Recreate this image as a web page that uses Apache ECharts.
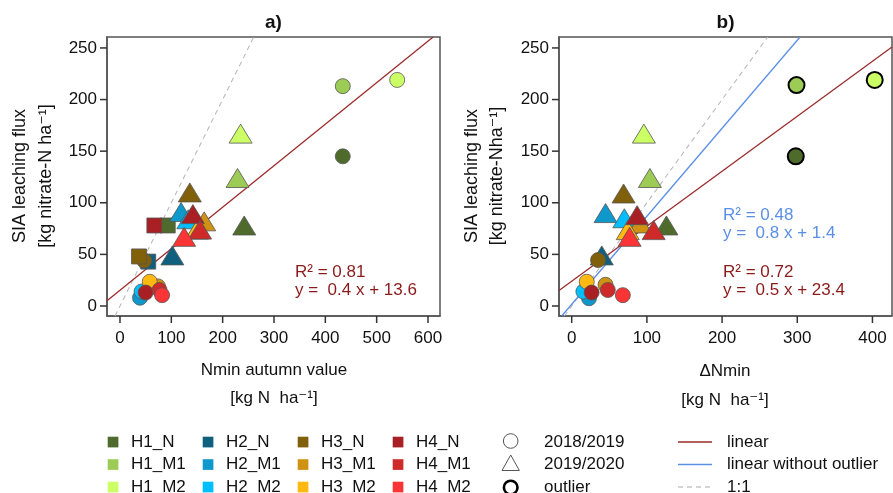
<!DOCTYPE html>
<html>
<head>
<meta charset="utf-8">
<title>SIA leaching flux vs Nmin</title>
<script src="https://cdn.jsdelivr.net/npm/echarts@6/dist/echarts.min.js"></script>
<style>
  html, body { margin: 0; padding: 0; background: #fff; }
  #chart { width: 893px; height: 493px; }
</style>
</head>
<body>
<div id="chart"></div>
<script>
// groups (treatment / plot)
const groups = ['H1_N', 'H1_M1', 'H1_M2', 'H2_N', 'H2_M1', 'H2_M2', 'H3_N', 'H3_M1', 'H3_M2', 'H4_N', 'H4_M1', 'H4_M2']
const groupColors = ['#4f6b2b', '#9ccc55', '#ccff66', '#0f607f', '#0f98cc', '#00bfff',
  '#80600a', '#cf9212', '#ffb911', '#a81f24', '#cf2a2a', '#fb3535']

const xTicksA = [0, 100, 200, 300, 400, 500, 600]
const xTicksB = [0, 100, 200, 300, 400]
const yTicks = [0, 50, 100, 150, 200, 250]

// panel a) x = Nmin autumn value, y = SIA leaching flux  [x, y, group]
const circlesA = [
  [434, 145, 'H1_N'], [434, 213, 'H1_M1'], [540, 219, 'H1_M2'],
  [39, 8, 'H2_M1'], [42, 14, 'H2_M2'],
  [47, 44, 'H3_N'], [74, 19, 'H3_M1'], [58, 23.5, 'H3_M2'],
  [50, 13, 'H4_N'], [77, 15.5, 'H4_M1'], [82, 10.5, 'H4_M2']
]
const trianglesA = [
  [242, 78, 'H1_N'], [229, 124, 'H1_M1'], [235, 167, 'H1_M2'],
  [102, 49, 'H2_N'], [119, 91, 'H2_M1'], [133, 84, 'H2_M2'],
  [136, 110, 'H3_N'], [164, 82, 'H3_M1'], [150, 74, 'H3_M2'],
  [142, 89, 'H4_N'], [156, 74, 'H4_M1'], [125, 67, 'H4_M2']
]
const squaresA = [
  [93, 78, 'H1_N'], [55, 43, 'H2_N'], [37, 48, 'H3_N'], [67, 78, 'H4_N']
]

// panel b) x = delta Nmin
const circlesB = [
  [298, 145, 'H1_N'], [299, 214, 'H1_M1'], [403, 219, 'H1_M2'],
  [23, 7.5, 'H2_M1'], [15.5, 14, 'H2_M2'],
  [35, 44.5, 'H3_N'], [45, 20.5, 'H3_M1'], [20, 23.5, 'H3_M2'],
  [26.5, 13, 'H4_N'], [48, 15.5, 'H4_M1'], [68, 10.5, 'H4_M2']
]
const trianglesB = [
  [126, 78, 'H1_N'], [104, 124, 'H1_M1'], [96, 167, 'H1_M2'],
  [40, 49, 'H2_N'], [45, 90, 'H2_M1'], [70, 85, 'H2_M2'],
  [69, 109, 'H3_N'], [91, 80, 'H3_M1'], [74.5, 73.5, 'H3_M2'],
  [87, 88, 'H4_N'], [109, 73.5, 'H4_M1'], [77, 67, 'H4_M2']
]
const outliersB = ['H1_N', 'H1_M1', 'H1_M2']

// fitted lines (end points)
const linearA = [[-25.3, 5], [610, 260.6]]
const oneToOneA = [[-9.7, -9.7], [260.6, 260.6]]
const linearB = [[-16.9, 15], [426, 251]]
const linearNoOutlierB = [[-13.3, -9.7], [303.7, 260.6]]
const oneToOneB = [[-9.7, -9.7], [260.6, 260.6]]

const FONT = '"Liberation Sans", Arial, "DejaVu Sans", sans-serif'
const RED = '#9b2b2b'
const BLUE = '#5b8fe6'
const FRAME = '#555'
const TICK_LEN = 7

const chart = echarts.init(document.getElementById('chart'))

const buildPoints = (list, symbol, outliers) => {
  const shapeOrder = { circle: 0, triangle: 1, rect: 2 }
  return list.map(p => {
    const gi = groups.indexOf(p[2])
    const isOut = outliers && outliers.includes(p[2])
    let size = 15
    if (symbol === 'triangle') size = [23, 19]
    if (symbol === 'rect') size = 15
    if (isOut) size = 16
    return {
      order: gi * 3 + shapeOrder[symbol],
      item: {
        value: [p[0], p[1]],
        symbol: symbol,
        symbolSize: size,
        itemStyle: {
          color: groupColors[gi],
          opacity: 1,
          borderColor: isOut ? '#000' : '#555',
          borderWidth: isOut ? 2 : 0.8
        }
      }
    }
  })
}

const sortedItems = arr => arr.sort((a, b) => a.order - b.order).map(d => d.item)

const pointsA = sortedItems([
  ...buildPoints(squaresA, 'rect'),
  ...buildPoints(circlesA, 'circle'),
  ...buildPoints(trianglesA, 'triangle')
])
const pointsB = sortedItems([
  ...buildPoints(circlesB, 'circle', outliersB),
  ...buildPoints(trianglesB, 'triangle')
])

const xAxisBase = ticks => ({
  type: 'value',
  position: 'bottom',
  axisLine: { show: true, onZero: false, lineStyle: { color: FRAME, width: 1.5 } },
  splitLine: { show: false },
  axisTick: { show: false },
  axisLabel: { customValues: ticks, fontSize: 17, fontFamily: FONT, color: '#111', margin: 14 }
})
const yAxisBase = () => ({
  type: 'value',
  position: 'left',
  min: -9.7,
  max: 260.6,
  axisLine: { show: true, onZero: false, lineStyle: { color: FRAME, width: 1.5 } },
  splitLine: { show: false },
  axisTick: { show: false },
  axisLabel: { customValues: yTicks, fontSize: 17, fontFamily: FONT, color: '#111', margin: 10 }
})

const lineSeries = (data, idx, color, dashed) => ({
  type: 'line',
  xAxisIndex: idx,
  yAxisIndex: idx,
  data: data,
  showSymbol: false,
  symbol: 'none',
  silent: true,
  clip: true,
  z: 1,
  lineStyle: { color: color, width: dashed ? 1.1 : 1.3, type: dashed ? [5, 4] : 'solid' }
})

const txt = (text, x, y, opts = {}) => ({
  type: 'text',
  x: x,
  y: y,
  rotation: opts.rotation || 0,
  style: {
    text: text,
    font: (opts.bold ? 'bold ' : '') + (opts.size || 17) + 'px ' + FONT,
    fill: opts.color || '#111',
    textAlign: opts.align || 'left',
    textVerticalAlign: 'middle',
    verticalAlign: 'middle'
  }
})

// legend
const legendRows = [442, 464.5, 487]
const legendCols = [113, 208, 303, 398]
const legendGraphics = []
groups.forEach((g, i) => {
  const col = Math.floor(i / 3)
  const row = i % 3
  const cx = legendCols[col]
  const cy = legendRows[row]
  legendGraphics.push({
    type: 'rect',
    shape: { x: cx - 5.3, y: cy - 5.3, width: 10.7, height: 10.7 },
    style: { fill: groupColors[i] }
  })
  legendGraphics.push(txt(g, cx + 18, cy))
})
legendGraphics.push(
  { type: 'circle', shape: { cx: 510.7, cy: 441, r: 7.3 }, style: { fill: 'none', stroke: '#555', lineWidth: 1 } },
  { type: 'polygon', shape: { points: [[510.7, 455], [502, 470.5], [519.4, 470.5]] }, style: { fill: 'none', stroke: '#555', lineWidth: 1 } },
  { type: 'circle', shape: { cx: 510.7, cy: 487.5, r: 6.8 }, style: { fill: 'none', stroke: '#000', lineWidth: 2.6 } },
  txt('2018/2019', 544, legendRows[0]),
  txt('2019/2020', 544, legendRows[1]),
  txt('outlier', 544, legendRows[2]),
  { type: 'line', shape: { x1: 678, y1: 442, x2: 712, y2: 442 }, style: { stroke: RED, lineWidth: 1.3 } },
  { type: 'line', shape: { x1: 678, y1: 464.5, x2: 712, y2: 464.5 }, style: { stroke: BLUE, lineWidth: 1.3 } },
  { type: 'line', shape: { x1: 678, y1: 487, x2: 712, y2: 487 }, style: { stroke: '#aaa', lineWidth: 1.1, lineDash: [5, 4] } },
  txt('linear', 727, legendRows[0]),
  txt('linear without outlier', 727, legendRows[1]),
  txt('1:1', 727, legendRows[2])
)

const textGraphics = [
  txt('a)', 273.5, 23, { bold: true, size: 19, align: 'center' }),
  txt('b)', 725.5, 23, { bold: true, size: 19, align: 'center' }),
  txt('SIA leaching flux', 20, 176, { rotation: Math.PI / 2, align: 'center', size: 18 }),
  txt('[kg nitrate-N ha\u207B\u00B9]', 46, 176, { rotation: Math.PI / 2, align: 'center', size: 18 }),
  txt('SIA leaching flux', 472, 176, { rotation: Math.PI / 2, align: 'center', size: 18 }),
  txt('[kg nitrate-Nha\u207B\u00B9]', 497, 176, { rotation: Math.PI / 2, align: 'center', size: 18 }),
  txt('Nmin autumn value', 274, 370, { align: 'center' }),
  txt('[kg N  ha\u207B\u00B9]', 274, 398, { align: 'center' }),
  txt('\u0394Nmin', 725, 371.5, { align: 'center' }),
  txt('[kg N  ha\u207B\u00B9]', 725, 400, { align: 'center' }),
  txt('R\u00B2 = 0.81', 295, 272, { color: '#8b1a1a' }),
  txt('y =  0.4 x + 13.6', 295, 290, { color: '#8b1a1a' }),
  txt('R\u00B2 = 0.48', 723, 215, { color: BLUE }),
  txt('y =  0.8 x + 1.4', 723, 233, { color: BLUE }),
  txt('R\u00B2 = 0.72', 723, 272, { color: '#8b1a1a' }),
  txt('y =  0.5 x + 23.4', 723, 290, { color: '#8b1a1a' })
]

const grids = [
  { left: 107, top: 37, width: 333, height: 279, show: true, borderColor: FRAME, borderWidth: 1.5 },
  { left: 559, top: 37, width: 333, height: 279, show: true, borderColor: FRAME, borderWidth: 1.5 }
]

const option = {
  backgroundColor: '#fff',
  animation: false,
  grid: grids,
  xAxis: [
    Object.assign(xAxisBase(xTicksA), { gridIndex: 0, min: -25.3, max: 623.4 }),
    Object.assign(xAxisBase(xTicksB), { gridIndex: 1, min: -16.9, max: 426 })
  ],
  yAxis: [
    Object.assign(yAxisBase(), { gridIndex: 0 }),
    Object.assign(yAxisBase(), { gridIndex: 1 })
  ],
  series: [
    lineSeries(oneToOneA, 0, '#bbb', true),
    lineSeries(linearA, 0, RED, false),
    lineSeries(oneToOneB, 1, '#bbb', true),
    lineSeries(linearNoOutlierB, 1, BLUE, false),
    lineSeries(linearB, 1, RED, false),
    { type: 'scatter', xAxisIndex: 0, yAxisIndex: 0, data: pointsA, z: 3, silent: true },
    { type: 'scatter', xAxisIndex: 1, yAxisIndex: 1, data: pointsB, z: 3, silent: true }
  ],
  graphic: [...textGraphics, ...legendGraphics]
}

chart.setOption(option)

// outward tick marks, placed through the axes' own scales
const tickGraphics = []
const tickLine = (x1, y1, x2, y2) => ({
  type: 'line',
  z: 100,
  shape: { x1: x1, y1: y1, x2: x2, y2: y2 },
  style: { stroke: '#333', lineWidth: 1.5 }
})
;[[xTicksA, 0], [xTicksB, 1]].forEach(([ticks, idx]) => {
  const g = grids[idx]
  const yb = g.top + g.height
  ticks.forEach(v => {
    const px = chart.convertToPixel({ xAxisIndex: idx }, v)
    tickGraphics.push(tickLine(px, yb, px, yb + TICK_LEN))
  })
})
;[0, 1].forEach(idx => {
  const g = grids[idx]
  yTicks.forEach(v => {
    const py = chart.convertToPixel({ yAxisIndex: idx }, v)
    tickGraphics.push(tickLine(g.left - TICK_LEN, py, g.left, py))
  })
})
chart.setOption({ graphic: [...textGraphics, ...legendGraphics, ...tickGraphics] })

window.addEventListener('resize', () => chart.resize())
</script>
</body>
</html>
